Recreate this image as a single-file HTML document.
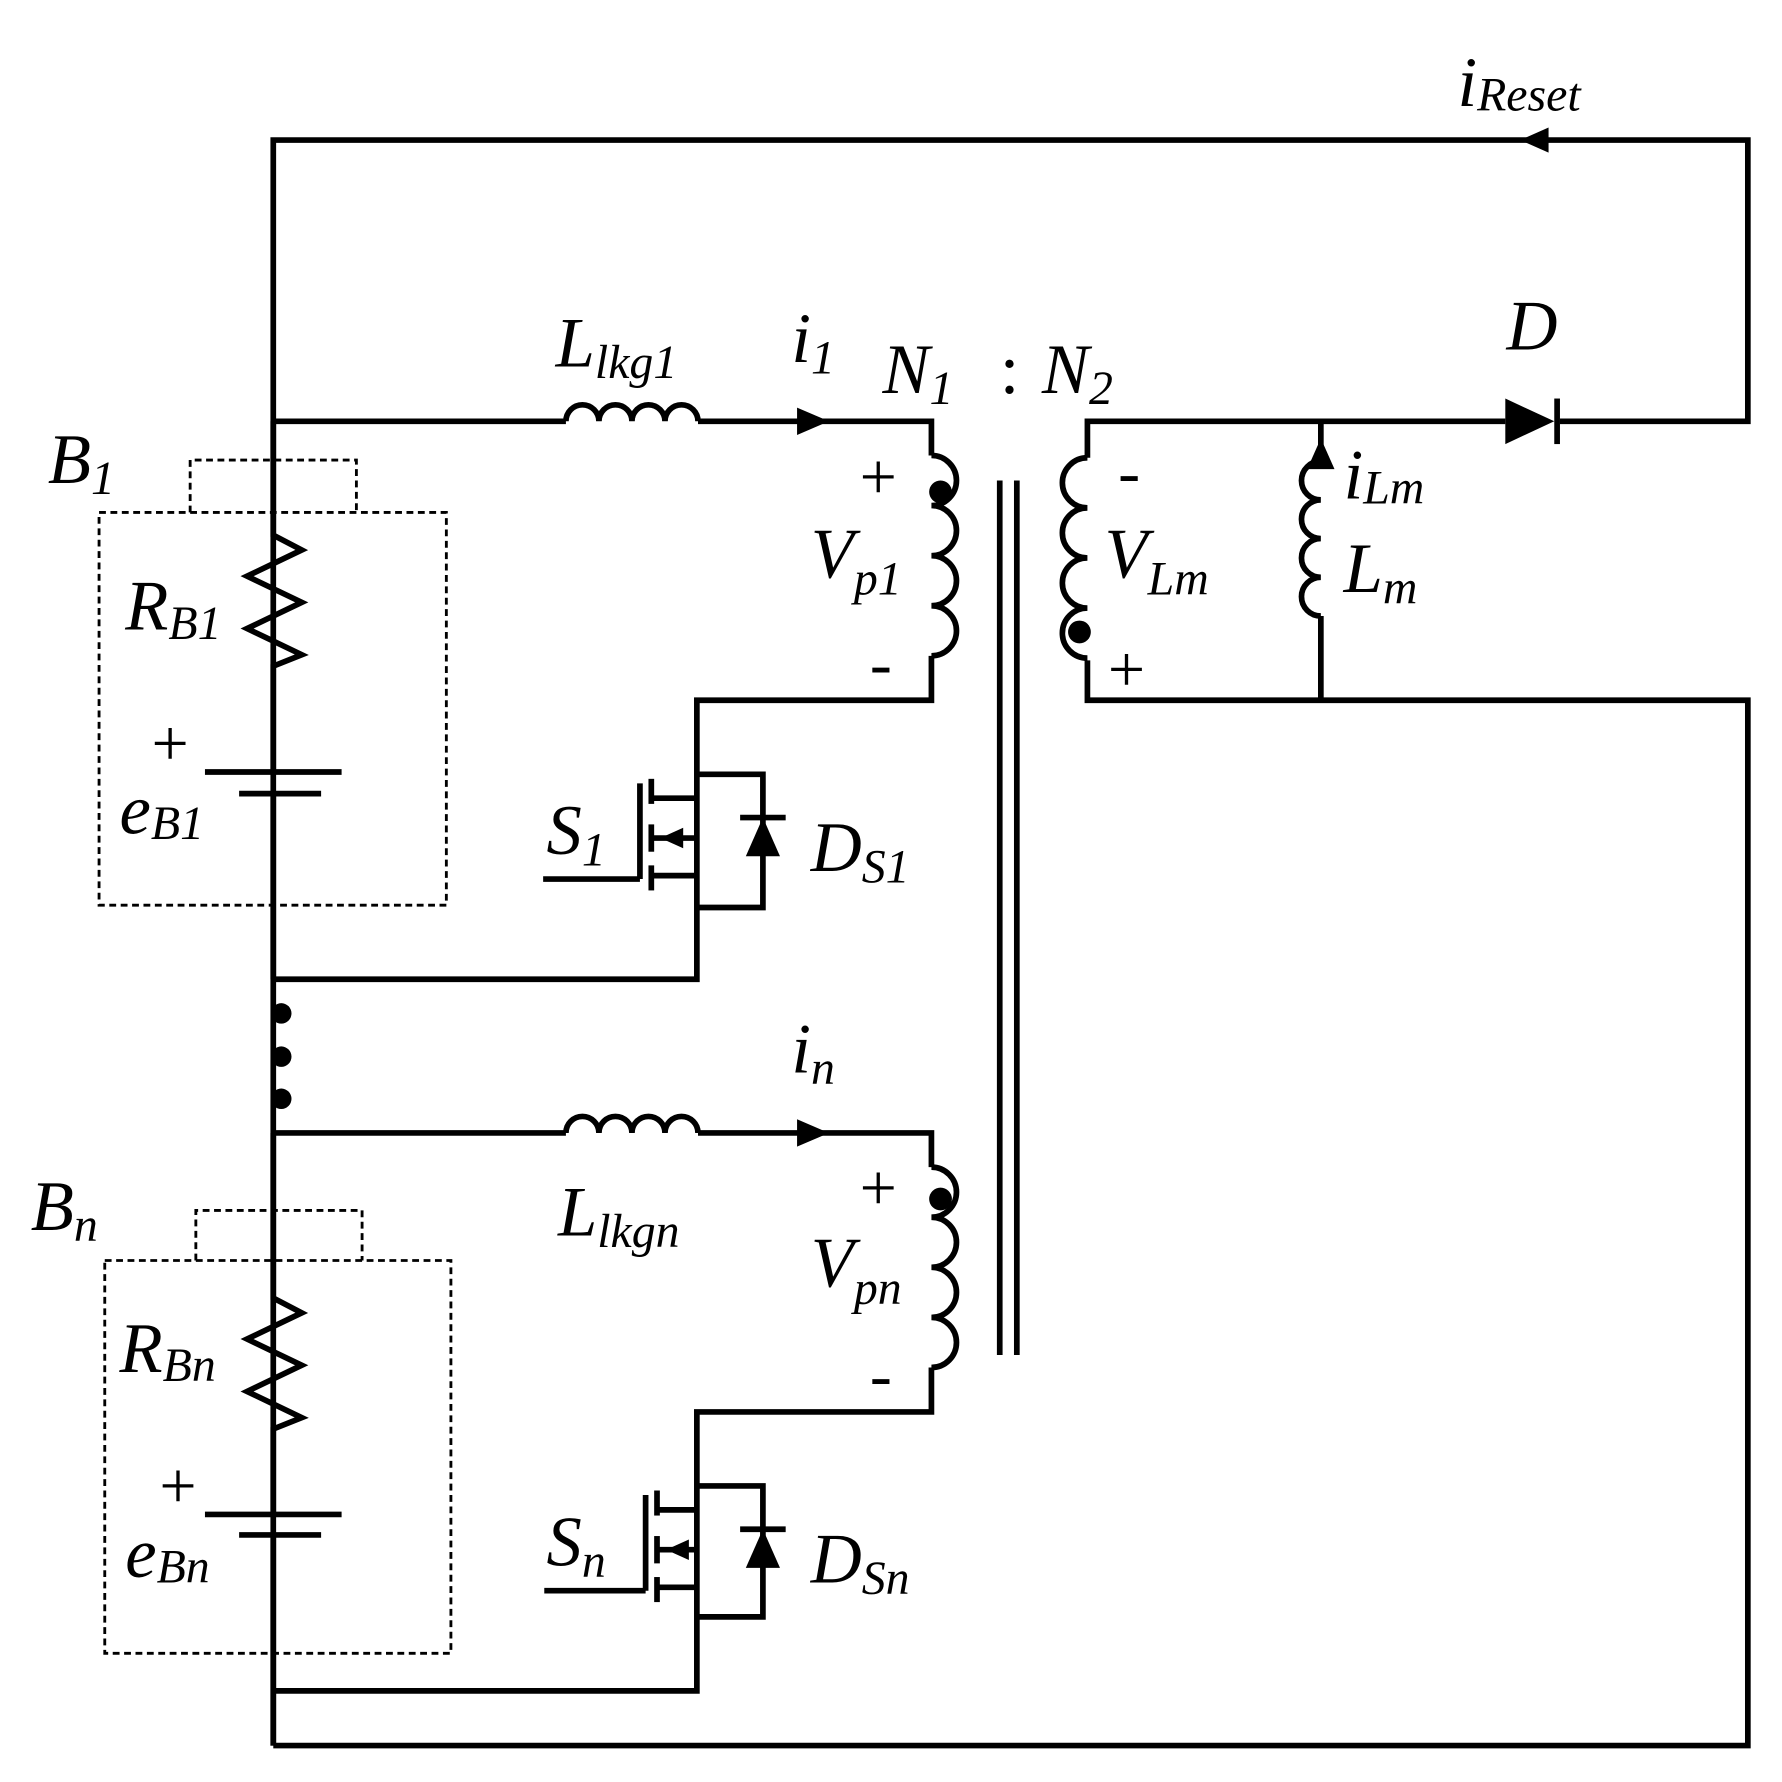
<!DOCTYPE html>
<html><head><style>html,body{margin:0;padding:0;background:#fff}svg{display:block}
text{font-family:"Liberation Serif","Times New Roman",serif;font-style:italic;fill:#000}</style></head>
<body>
<svg width="1782" height="1782" viewBox="0 0 1565 1565" xmlns="http://www.w3.org/2000/svg">
<g fill="none" stroke="#000" stroke-width="5" stroke-linejoin="miter">
<polyline points="240,1533 240,123 1535,123 1535,370 1370,370"/>
<polyline points="240,1533 1535,1533 1535,615 955,615 955,580"/>
<polyline points="240,370 497,370"/>
<path d="M497,370 a14.5,14.5 0 0 1 29,0 a14.5,14.5 0 0 1 29,0 a14.5,14.5 0 0 1 29,0 a14.5,14.5 0 0 1 29,0"/>
<polyline points="613,370 818,370 818,400"/>
<path d="M818,400 a22,22 0 0 1 0,44 a22,22 0 0 1 0,44 a22,22 0 0 1 0,44 a22,22 0 0 1 0,44"/>
<polyline points="818,576 818,615 612,615 612,860 240,860"/>
<polyline points="612,680 670,680 670,797 612,797"/>
<line x1="650" y1="718" x2="690" y2="718"/>
<line x1="562" y1="688" x2="562" y2="772"/>
<line x1="572" y1="684" x2="572" y2="706"/><line x1="572" y1="724" x2="572" y2="748"/><line x1="572" y1="760" x2="572" y2="782"/>
<polyline points="572,701 612,701"/><polyline points="572,736 612,736"/><polyline points="572,769 612,769"/>
<line x1="477" y1="772" x2="562" y2="772"/>
<polyline points="240,995 497,995"/>
<path d="M497,995 a14.5,14.5 0 0 1 29,0 a14.5,14.5 0 0 1 29,0 a14.5,14.5 0 0 1 29,0 a14.5,14.5 0 0 1 29,0"/>
<polyline points="613,995 818,995 818,1025"/>
<path d="M818,1025 a22,22 0 0 1 0,44 a22,22 0 0 1 0,44 a22,22 0 0 1 0,44 a22,22 0 0 1 0,44"/>
<polyline points="818,1201 818,1240 612,1240 612,1485 240,1485"/>
<polyline points="612,1305 670,1305 670,1420 612,1420"/>
<line x1="650" y1="1343" x2="690" y2="1343"/>
<line x1="567" y1="1313" x2="567" y2="1397"/>
<line x1="577" y1="1309" x2="577" y2="1331"/><line x1="577" y1="1349" x2="577" y2="1373"/><line x1="577" y1="1385" x2="577" y2="1407"/>
<polyline points="577,1326 612,1326"/><polyline points="577,1361 612,1361"/><polyline points="577,1394 612,1394"/>
<line x1="478" y1="1397" x2="567" y2="1397"/>
<polyline points="240,370 240,470 265,483 217,506 265,529 217,552 265,575 240,585 240,678"/>
<line x1="240" y1="697" x2="240" y2="860"/>
<line x1="180" y1="678" x2="300" y2="678"/><line x1="210" y1="697" x2="282" y2="697"/>
<polyline points="240,995 240,1140 265,1153 217,1176 265,1199 217,1222 265,1245 240,1255 240,1330"/>
<line x1="240" y1="1348" x2="240" y2="1533"/>
<line x1="180" y1="1330" x2="300" y2="1330"/><line x1="210" y1="1348" x2="282" y2="1348"/>
<line x1="878" y1="422" x2="878" y2="1190"/><line x1="893" y1="422" x2="893" y2="1190"/>
<polyline points="955,402 955,370 1322,370"/>
<path d="M955,402 a22,22 0 0 0 0,44 a22,22 0 0 0 0,44 a22,22 0 0 0 0,44 a22,22 0 0 0 0,44"/>
<polyline points="1160,370 1160,405"/>
<path d="M1160,405 a17,17 0 0 0 0,34 a17,17 0 0 0 0,34 a17,17 0 0 0 0,34 a17,17 0 0 0 0,34"/>
<polyline points="1160,541 1160,615"/>
</g>
<g stroke="#000" stroke-width="2.5" fill="none" stroke-dasharray="6,4">
<rect x="87" y="450" width="305" height="345"/><polyline points="167,450 167,404 313,404 313,450"/>
<rect x="92" y="1107" width="304" height="345"/><polyline points="172,1107 172,1063 318,1063 318,1107"/>
</g>
<g fill="#000">
<polygon points="1322,350 1322,390 1365,370"/><rect x="1365" y="350" width="5" height="40"/>
<polygon points="1335,123 1360,112 1360,134"/>
<polygon points="728,370 700,358 700,382"/>
<polygon points="728,995 700,983 700,1007"/>
<polygon points="1160,385 1148,412 1172,412"/>
<polygon points="670,718 655,752 685,752"/>
<polygon points="670,1343 655,1377 685,1377"/>
<polygon points="580,736 600,727 600,745"/>
<polygon points="585,1361 605,1352 605,1370"/>
<circle cx="826" cy="432" r="10"/><circle cx="826" cy="1053" r="10"/><circle cx="948" cy="555" r="10"/>
<circle cx="247" cy="890" r="9"/><circle cx="247" cy="928" r="9"/><circle cx="247" cy="965" r="9"/>
</g>
<g font-size="62">
<text x="1280" y="93">i<tspan font-size="42" dy="4">Reset</tspan></text>
<text x="488" y="322">L<tspan font-size="42" dy="10">lkg1</tspan></text>
<text x="695" y="318">i<tspan font-size="42" dy="10">1</tspan></text>
<text x="775" y="345">N<tspan font-size="42" dy="10">1</tspan></text>
<text x="878" y="345" style="font-style:normal">:</text>
<text x="915" y="345">N<tspan font-size="42" dy="10">2</tspan></text>
<text x="1323" y="307">D</text>
<text x="42" y="424">B<tspan font-size="42" dy="10">1</tspan></text>
<text x="110" y="553">R<tspan font-size="42" dy="8">B1</tspan></text>
<text x="105" y="732">e<tspan font-size="42" dy="5">B1</tspan></text>
<text x="712" y="507">V<tspan font-size="42" dy="15">p1</tspan></text>
<text x="970" y="507">V<tspan font-size="42" dy="15">Lm</tspan></text>
<text x="1180" y="438">i<tspan font-size="42" dy="4">Lm</tspan></text>
<text x="1180" y="520">L<tspan font-size="42" dy="10">m</tspan></text>
<text x="480" y="750">S<tspan font-size="42" dy="10">1</tspan></text>
<text x="712" y="765">D<tspan font-size="42" dy="10">S1</tspan></text>
<text x="695" y="942">i<tspan font-size="42" dy="10">n</tspan></text>
<text x="27" y="1080">B<tspan font-size="42" dy="10">n</tspan></text>
<text x="490" y="1085">L<tspan font-size="42" dy="10">lkgn</tspan></text>
<text x="712" y="1130">V<tspan font-size="42" dy="15">pn</tspan></text>
<text x="105" y="1205">R<tspan font-size="42" dy="8">Bn</tspan></text>
<text x="110" y="1385">e<tspan font-size="42" dy="5">Bn</tspan></text>
<text x="480" y="1375">S<tspan font-size="42" dy="10">n</tspan></text>
<text x="712" y="1390">D<tspan font-size="42" dy="10">Sn</tspan></text>
</g>
<g font-size="58">
<text x="755" y="438" style="font-style:normal">+</text>
<text x="764" y="602" style="font-style:normal">-</text>
<text x="755" y="1062" style="font-style:normal">+</text>
<text x="764" y="1227" style="font-style:normal">-</text>
<text x="982" y="434" style="font-style:normal">-</text>
<text x="973" y="607" style="font-style:normal">+</text>
<text x="133" y="672" style="font-style:normal">+</text>
<text x="140" y="1324" style="font-style:normal">+</text>
</g>
</svg>
</body></html>
